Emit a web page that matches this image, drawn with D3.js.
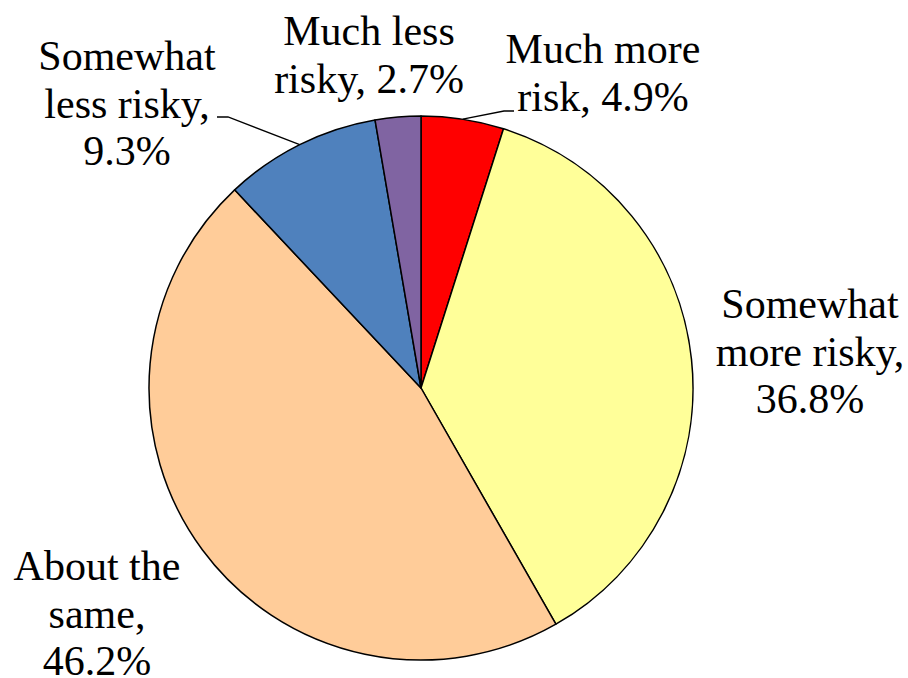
<!DOCTYPE html>
<html>
<head>
<meta charset="utf-8">
<script src="https://cdn.jsdelivr.net/npm/d3@7"></script>
</head>
<body style="margin:0; overflow:hidden">
<script>
// data
var categories = ["Much more risk", "Somewhat more risky", "About the same", "Somewhat less risky", "Much less risky"];
var values = [4.9, 36.8, 46.2, 9.3, 2.7];
var labelLines = [
    ["Much more", "risk, 4.9%"],
    ["Somewhat", "more risky,", "36.8%"],
    ["About the", "same,", "46.2%"],
    ["Somewhat", "less risky,", "9.3%"],
    ["Much less", "risky, 2.7%"]
];
var colors = ["#FF0000", "#FFFF99", "#FFCC99", "#4F81BD", "#8064A2"];

// layout
var width = 908, height = 678;
var cx = 421, cy = 388, radius = 272;
var baseSize = 36, textScale = 42 / 36, lineGap = 47.5;
// label centre x and first baseline y
var labelPos = [[603, 63], [810, 318], [97, 580], [127, 70], [369, 45]];
// leader lines: elbow point + horizontal end (null = no leader)
var leaders = [[[504, 111], [514, 111]], null, null, [[228, 117], [217, 117]], null];

var svg = d3.select("body").append("svg")
    .attr("width", width)
    .attr("height", height)
    .style("display", "block");

var pie = d3.pie().sort(null).value(function (d) { return d; });
var arc = d3.arc().innerRadius(0).outerRadius(radius);
var arcs = pie(values);

var g = svg.append("g").attr("transform", "translate(" + cx + "," + cy + ")");

g.selectAll("path.slice")
    .data(arcs)
    .enter().append("path")
    .attr("class", "slice")
    .attr("d", arc)
    .style("fill", function (d, i) { return colors[i]; })
    .style("stroke", "#000")
    .style("stroke-width", 1.5)
    .style("stroke-linejoin", "round");

// leader lines from the slice's mid angle on the rim
arcs.forEach(function (d, i) {
    if (!leaders[i]) return;
    var a = (d.startAngle + d.endAngle) / 2;
    var p0 = [cx + radius * Math.sin(a), cy - radius * Math.cos(a)];
    svg.append("polyline")
        .attr("points", [p0, leaders[i][0], leaders[i][1]].map(function (p) { return p.join(","); }).join(" "))
        .style("fill", "none")
        .style("stroke", "#000")
        .style("stroke-width", 1.3);
});

// labels, one text per line, drawn at 36px and scaled up
categories.forEach(function (c, i) {
    labelLines[i].forEach(function (line, j) {
        var x = labelPos[i][0], y = labelPos[i][1] + j * lineGap;
        svg.append("text")
            .attr("transform", "translate(" + x + "," + y + ") scale(" + textScale + ")")
            .attr("text-anchor", "middle")
            .style("font-family", "'Liberation Serif'")
            .style("font-size", baseSize + "px")
            .text(line);
    });
});
</script>
</body>
</html>
